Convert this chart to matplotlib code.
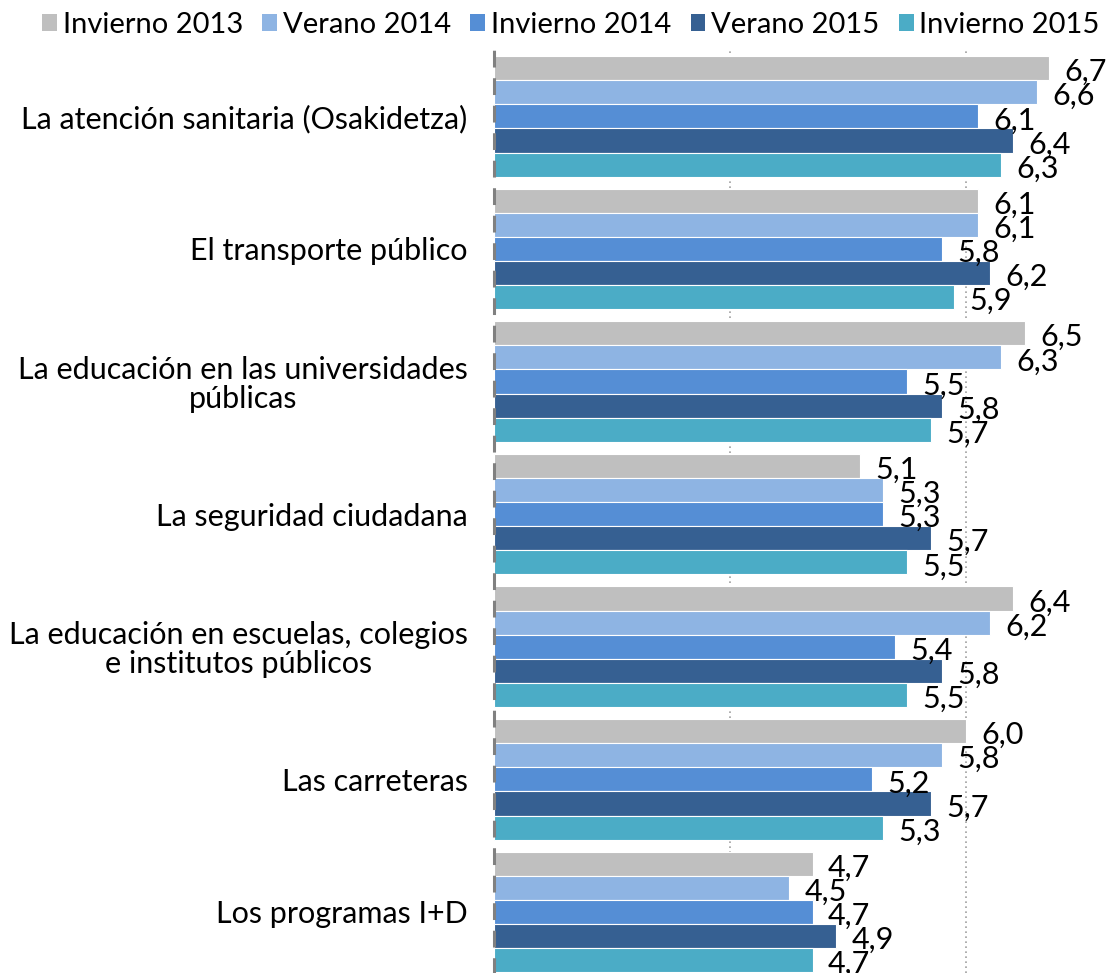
import matplotlib.pyplot as plt
import numpy as np
from matplotlib.patches import Patch

plt.rcParams['font.family'] = ['Lato', 'DejaVu Sans']

categories = ['La atención sanitaria (Osakidetza)',
              'El transporte público',
              'La educación en las universidades\npúblicas',
              'La seguridad ciudadana',
              'La educación en escuelas, colegios\ne institutos públicos',
              'Las carreteras',
              'Los programas I+D']
series = ['Invierno 2013', 'Verano 2014', 'Invierno 2014', 'Verano 2015', 'Invierno 2015']
colors = ['#BFBFBF', '#8EB4E3', '#558ED5', '#366092', '#4BACC6']

invierno_2013 = [6.7, 6.1, 6.5, 5.1, 6.4, 6.0, 4.7]
verano_2014 = [6.6, 6.1, 6.3, 5.3, 6.2, 5.8, 4.5]
invierno_2014 = [6.1, 5.8, 5.5, 5.3, 5.4, 5.2, 4.7]
verano_2015 = [6.4, 6.2, 5.8, 5.7, 5.8, 5.7, 4.9]
invierno_2015 = [6.3, 5.9, 5.7, 5.5, 5.5, 5.3, 4.7]
values = [invierno_2013, verano_2014, invierno_2014, verano_2015, invierno_2015]

W, H = 1107, 973
fig = plt.figure(figsize=(W / 100, H / 100), dpi=100)
ax = fig.add_axes([494 / W, 0, 1 - 494 / W, 1 - 50 / H])

x_min = 2
h = 0.182
y = np.arange(len(categories))
for j, (name, vals) in enumerate(zip(series, values)):
    pos = y + (j - 2) * h
    ax.barh(pos, np.array(vals) - x_min, left=x_min, height=h,
            color=colors[j], edgecolor='white', linewidth=0.8,
            label=name, zorder=3)
    for p, v in zip(pos, vals):
        ax.text(v + 0.13, p + 0.03, f'{v:.1f}'.replace('.', ','),
                va='center', ha='left', fontsize=22, zorder=4)

ax.set_xticks([4, 6, 8])
ax.set_xlim(x_min, x_min + 613 / 118)
ax.set_ylim(6.46, -0.5)
ax.xaxis.grid(True, color='#A0A0A0', linestyle=(0, (1, 2)), linewidth=1.2, zorder=0)
ax.tick_params(axis='x', length=0, labelbottom=False)
ax.set_yticks(y)
ax.set_yticklabels(categories, fontsize=22, multialignment='center', linespacing=1.05)
ax.tick_params(axis='y', length=0, pad=19)
for s in ['top', 'right', 'bottom']:
    ax.spines[s].set_visible(False)
ax.spines['left'].set_color('#808080')
ax.spines['left'].set_linewidth(2.2)
ax.spines['left'].set_linestyle((0, (4.5, 4.5)))
ax.spines['left'].set_zorder(5)

handles = [Patch(facecolor=c, label=s) for c, s in zip(colors, series)]
fig.legend(handles=handles, loc='upper left', bbox_to_anchor=(42 / W, 0.988), ncol=5,
           frameon=False, fontsize=21, handlelength=0.51, handleheight=0.51,
           handletextpad=0.2, columnspacing=0.66, borderaxespad=0, borderpad=0)

fig.savefig('out.png', dpi=100)
